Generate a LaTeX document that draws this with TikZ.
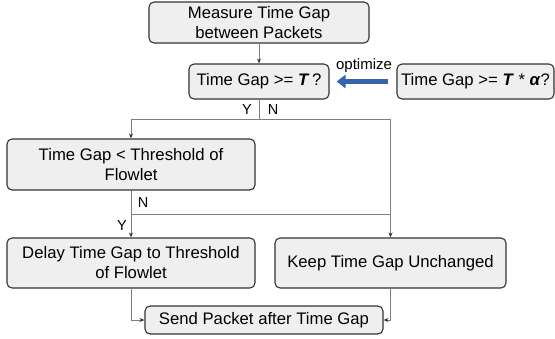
\documentclass[tikz,border=0pt]{standalone}
\usepackage{fontspec}
\setmainfont{Liberation Sans}
\usetikzlibrary{arrows.meta}
\definecolor{boxline}{HTML}{333333}
\definecolor{boxfill}{HTML}{EFEFEF}
\definecolor{lineg}{HTML}{7F7F7F}
\definecolor{arrowblue}{HTML}{3465AE}
\begin{document}
\begin{tikzpicture}[x=1pt,y=-1pt,
  box/.style={draw=boxline, fill=boxfill, rounded corners=5pt, line width=1.1pt, align=center, inner sep=0pt, font=\fontsize{16.7}{20}\selectfont},
  conn/.style={draw=lineg, line width=0.8pt},
  arr/.style={conn, -{Stealth[length=5pt,width=4pt,color=boxline,fill=boxline]}},
  lbl/.style={font=\fontsize{14.5}{16}\selectfont, inner sep=0pt}]
\useasboundingbox (0,0) rectangle (555,338);
\node[box, minimum width=220pt, minimum height=41pt] (m) at (259,22.5) {Measure Time Gap\\between Packets};
\node[box, minimum width=140pt, minimum height=35pt] (t) at (259,81.5) {Time Gap >= \textbf{\textit{T}}\,?};
\node[box, minimum width=157pt, minimum height=35pt] (ta) at (475.5,81.5) {Time Gap >= \textbf{\textit{T}} * \textbf{\textit{α}}?};
\node[box, minimum width=248pt, minimum height=51pt] (lt) at (131,164.5) {Time Gap < Threshold of\\Flowlet};
\node[box, minimum width=248pt, minimum height=50pt] (d) at (131,263) {Delay Time Gap to Threshold\\of Flowlet};
\node[box, minimum width=231pt, minimum height=50pt] (k) at (390.5,263) {Keep Time Gap Unchanged};
\node[box, minimum width=238pt, minimum height=28pt] (s) at (264,320) {Send Packet after Time Gap};

\coordinate (j1) at (259,119);
\coordinate (j2) at (131,214);

\draw[arr] (m.south) -- (t.north);
\draw[conn] (t.south) -- (j1);
\draw[arr] (j1) -| (lt.north);
\draw[arr] (j1) -| (k.north);
\draw[arr] (lt.south) -- (d.north);
\draw[conn] (j2) -- (j2 -| k.north);
\draw[arr] (d.south) |- (s.west);
\draw[arr] (k.south) |- (s.east);

\draw[line width=5pt, draw=arrowblue, -{Triangle[length=9pt,width=13pt]}, shorten <=8pt, shorten >=7pt] (ta.west) -- (t.east);

\node[lbl] (oy) at (247,110) {Y};
\node[lbl] (on) at (273,110) {N};
\node[lbl] (ln) at (143,203) {N};
\node[lbl] (ly) at (122,226) {Y};
\node[font=\fontsize{15}{17}\selectfont, inner sep=0pt] (opt) at (364,66) {optimize};
\end{tikzpicture}
\end{document}
